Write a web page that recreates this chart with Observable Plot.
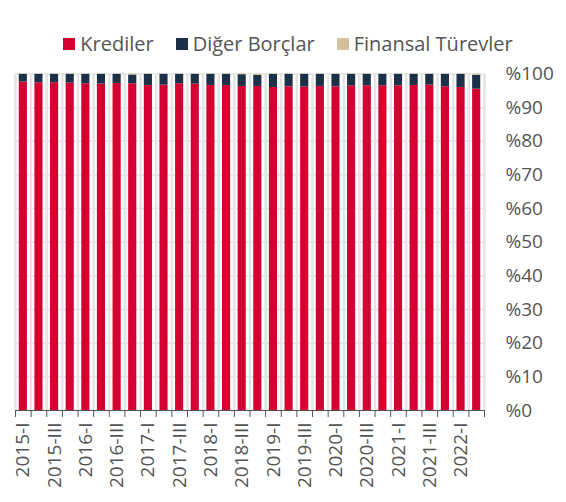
<!DOCTYPE html>
<html>
<head>
<meta charset="utf-8">
<script src="https://cdn.jsdelivr.net/npm/d3@7"></script>
<script src="https://cdn.jsdelivr.net/npm/@observablehq/plot@0.6"></script>
<style>
  html, body { margin: 0; padding: 0; background: #fff; }
  body { width: 566px; height: 502px; overflow: hidden; font-family: "Open Sans", sans-serif; }
  #legend { height: 60px; box-sizing: border-box; padding-top: 28px; display: flex; justify-content: center; font-size: 20px; color: #555; line-height: 24px; padding-left: 10px; }
  .item { display: flex; align-items: center; margin: 0 11px; }
  .sw { width: 12px; height: 12px; margin-right: 5px; display: inline-block; }
</style>
</head>
<body>
<div id="legend"></div>
<div id="chart"></div>
<script>
const categories = [
  "2015-I","2015-II","2015-III","2015-IV",
  "2016-I","2016-II","2016-III","2016-IV",
  "2017-I","2017-II","2017-III","2017-IV",
  "2018-I","2018-II","2018-III","2018-IV",
  "2019-I","2019-II","2019-III","2019-IV",
  "2020-I","2020-II","2020-III","2020-IV",
  "2021-I","2021-II","2021-III","2021-IV",
  "2022-I","2022-II"
];
const xTickLabels = [
  "2015-I","2015-III","2016-I","2016-III","2017-I","2017-III","2018-I","2018-III",
  "2019-I","2019-III","2020-I","2020-III","2021-I","2021-III","2022-I"
];
const seriesNames = ["Krediler", "Diğer Borçlar", "Finansal Türevler"];
const seriesColors = ["#d50032", "#1c3048", "#d4c19c"];
const krediler = [97.6,97.4,97.4,97.3,97.1,97.0,97.2,97.1,96.6,96.7,97.1,97.0,96.6,96.6,96.3,96.3,96.0,96.2,96.1,96.3,96.2,96.4,96.5,96.5,96.5,96.6,96.7,96.2,96.0,95.5];
const digerBorclar = [2.3,2.5,2.5,2.6,2.8,2.9,2.7,2.6,3.3,3.2,2.8,2.9,3.3,3.3,3.5,3.3,3.9,3.7,3.8,3.6,3.7,3.5,3.4,3.4,3.4,3.3,3.2,3.7,3.9,4.1];
const finansalTurevler = [0.1,0.1,0.1,0.1,0.1,0.1,0.1,0.3,0.1,0.1,0.1,0.1,0.1,0.1,0.2,0.4,0.1,0.1,0.1,0.1,0.1,0.1,0.1,0.1,0.1,0.1,0.1,0.1,0.1,0.4];
const yTicks = [0,10,20,30,40,50,60,70,80,90,100];

// legend
const legend = document.getElementById("legend");
seriesNames.forEach((n, i) => {
  const it = document.createElement("div");
  it.className = "item";
  it.innerHTML = `<span class="sw" style="background:${seriesColors[i]}"></span><span>${n}</span>`;
  legend.appendChild(it);
});

const seriesValues = [krediler, digerBorclar, finansalTurevler];
const data = [];
categories.forEach((c, i) => {
  seriesNames.forEach((s, j) => data.push({cat: c, series: s, value: seriesValues[j][i]}));
});

const width = 566, height = 442;
const mL = 15, mR = 82, mT = 13.5, mB = 92;
const step = (width - mL - mR) / categories.length;
const grid = "#e4e4e4";
const axisColor = "#555";

const chart = Plot.plot({
  width, height,
  marginLeft: mL, marginRight: mR, marginTop: mT, marginBottom: mB,
  style: {fontFamily: "Open Sans, sans-serif", fontSize: "19px", color: axisColor, background: "#fff"},
  x: {domain: categories, paddingInner: 0.48, paddingOuter: 0.24, round: false},
  y: {domain: [0, 100]},
  color: {domain: seriesNames, range: seriesColors},
  marks: [
    Plot.gridY(yTicks, {stroke: grid, strokeOpacity: 1, strokeWidth: 1.5}),
    Plot.ruleX(categories, {x: d => d, dx: -step / 2, stroke: grid, strokeWidth: 2.5}),
    Plot.ruleX([categories[categories.length - 1]], {x: d => d, dx: step / 2, stroke: grid, strokeWidth: 2.5}),
    Plot.barY(data, {x: "cat", y: "value", fill: "series", order: seriesNames}),
    Plot.ruleY([0], {stroke: axisColor, strokeWidth: 1.2}),
    Plot.axisX({ticks: categories, tickFormat: () => "", dx: -step / 2, tickSize: 7, stroke: axisColor, label: null}),
    Plot.axisX({ticks: [categories[categories.length - 1]], tickFormat: () => "", dx: step / 2, tickSize: 7, stroke: axisColor, label: null}),
    Plot.axisX({ticks: xTickLabels, tickSize: 0, tickPadding: 12, tickRotate: -90, fill: axisColor, fontSize: 19, label: null}),
    Plot.axisY({anchor: "right", ticks: yTicks, tickSize: 0, tickPadding: 21, textAnchor: "start", tickFormat: d => "%" + d, fill: axisColor, fontSize: 19, label: null})
  ]
});
document.getElementById("chart").appendChild(chart);
</script>
</body>
</html>
